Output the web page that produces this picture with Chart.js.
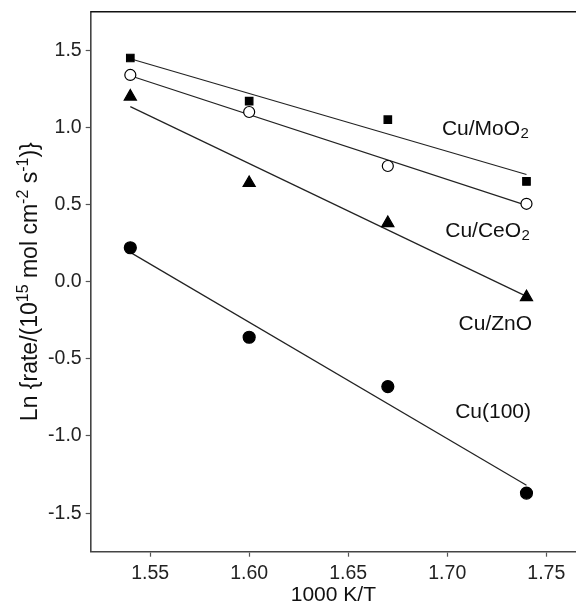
<!DOCTYPE html>
<html>
<head>
<meta charset="utf-8">
<script src="https://cdn.jsdelivr.net/npm/chart.js@4/dist/chart.umd.min.js"></script>
<style>
  html, body { margin: 0; padding: 0; background: #fff; overflow: hidden; }
  #wrap { width: 576px; height: 607px; position: relative; }
</style>
</head>
<body>
<div id="wrap"><canvas id="c" width="576" height="607"></canvas></div>
<script>
// ---- data ----
const xValues   = [1.54, 1.60, 1.67, 1.74];        // 1000 K/T
const cuMoO2    = [1.45, 1.17, 1.05, 0.65];
const cuCeO2    = [1.34, 1.10, 0.75, 0.505];
const cuZnO     = [1.20, 0.64, 0.38, -0.10];
const cu100     = [0.22, -0.36, -0.68, -1.37];

// fitted straight lines (end points)
const fitX      = [1.54, 1.74];
const fitMoO2   = [1.445, 0.695];
const fitCeO2   = [1.335, 0.495];
const fitZnO    = [1.135, -0.095];
const fitCu100  = [0.19, -1.32];

// tick labels
const xTicks = [1.55, 1.60, 1.65, 1.70, 1.75];
const yTicks = [-1.5, -1.0, -0.5, 0.0, 0.5, 1.0, 1.5];

// series labels
const labelMain = ["Cu/MoO", "Cu/CeO", "Cu/ZnO", "Cu(100)"];
const labelSub  = ["2", "2", "", ""];
const labelX    = [1.6973, 1.699, 1.7057, 1.704];
const labelY    = [0.950, 0.291, -0.313, -0.881];

const FONT = '"Liberation Sans", Arial, Helvetica, sans-serif';

function pts(xs, ys) { return xs.map((x, i) => ({ x: x, y: ys[i] })); }

const markerDs = (data, style, r, fill) => ({
  data: data, showLine: false, pointStyle: style, pointRadius: r, pointHoverRadius: r,
  pointBackgroundColor: fill, pointBorderColor: '#000', pointBorderWidth: 1.2, order: 1
});
const fitDs = (data) => ({
  data: data, showLine: true, pointRadius: 0, borderColor: '#222', borderWidth: 1.2,
  fill: false, order: 2
});

const framePlugin = {
  id: 'frame',
  afterDraw(chart) {
    const ctx = chart.ctx, a = chart.chartArea;
    ctx.save();
    // top frame line
    ctx.strokeStyle = '#111';
    ctx.lineWidth = 1.6;
    ctx.beginPath();
    ctx.moveTo(a.left, a.top);
    ctx.lineTo(a.right, a.top);
    ctx.stroke();

    const xs = chart.scales.x, ys = chart.scales.y;
    // series labels
    ctx.fillStyle = '#111';
    ctx.textBaseline = 'alphabetic';
    ctx.textAlign = 'left';
    for (let i = 0; i < labelMain.length; i++) {
      const px = xs.getPixelForValue(labelX[i]);
      const py = ys.getPixelForValue(labelY[i]);
      ctx.font = '21px ' + FONT;
      ctx.fillText(labelMain[i], px, py);
      if (labelSub[i]) {
        const w = ctx.measureText(labelMain[i]).width;
        ctx.font = '15px ' + FONT;
        ctx.fillText(labelSub[i], px + w + 0.5, py + 3);
      }
    }

    // x axis title
    ctx.font = '21px ' + FONT;
    ctx.textAlign = 'center';
    ctx.fillText('1000 K/T', (a.left + a.right) / 2, 601);

    // y axis title with superscripts
    const segs = [
      { t: 'Ln {rate/(10', sup: false },
      { t: '15', sup: true },
      { t: ' mol cm', sup: false },
      { t: '-2', sup: true },
      { t: ' s', sup: false },
      { t: '-1', sup: true },
      { t: ')}', sup: false }
    ];
    const big = '23px ' + FONT, small = '16px ' + FONT;
    let total = 0;
    segs.forEach(s => { ctx.font = s.sup ? small : big; s.w = ctx.measureText(s.t).width; total += s.w; });
    ctx.translate(37, (a.top + a.bottom) / 2);
    ctx.rotate(-Math.PI / 2);
    ctx.textAlign = 'left';
    let cx = -total / 2;
    segs.forEach(s => {
      ctx.font = s.sup ? small : big;
      ctx.fillText(s.t, cx, s.sup ? -9.5 : 0);
      cx += s.w;
    });
    ctx.restore();
  }
};

new Chart(document.getElementById('c'), {
  type: 'scatter',
  data: {
    datasets: [
      fitDs(pts(fitX, fitMoO2)),
      fitDs(pts(fitX, fitCeO2)),
      fitDs(pts(fitX, fitZnO)),
      fitDs(pts(fitX, fitCu100)),
      markerDs(pts(xValues, cuMoO2), 'rect', 5.3, '#000'),
      markerDs(pts(xValues, cuCeO2), 'circle', 5.5, '#fff'),
      markerDs(pts(xValues, cuZnO), 'triangle', 7, '#000'),
      markerDs(pts(xValues, cu100), 'circle', 6, '#000')
    ]
  },
  options: {
    responsive: false,
    animation: false,
    events: [],
    layout: { autoPadding: false, padding: { top: 11.7, right: 0, left: 0, bottom: 0 } },
    plugins: { legend: { display: false }, tooltip: { enabled: false } },
    scales: {
      x: {
        type: 'linear', min: 1.52, max: 1.765,
        afterBuildTicks: s => { s.ticks = xTicks.map(v => ({ value: v })); },
        afterFit: s => { s.height = 55.3; s.paddingRight = 0; s.paddingLeft = 0; },
        grid: { drawOnChartArea: false, drawTicks: true, tickLength: 5, tickColor: '#555', tickWidth: 1.2 },
        border: { display: true, color: '#444', width: 1.6 },
        ticks: { font: { family: FONT, size: 19.5 }, color: '#222', padding: 5, maxRotation: 0,
                 callback: v => Number(v).toFixed(2) }
      },
      y: {
        type: 'linear', min: -1.75, max: 1.75,
        afterBuildTicks: s => { s.ticks = yTicks.map(v => ({ value: v })); },
        afterFit: s => { s.width = 90.7; s.paddingTop = 0; s.paddingBottom = 0; },
        grid: { drawOnChartArea: false, drawTicks: true, tickLength: 5, tickColor: '#555', tickWidth: 1.2 },
        border: { display: true, color: '#444', width: 1.6 },
        ticks: { font: { family: FONT, size: 19.5 }, color: '#222', padding: 4,
                 callback: v => Number(v).toFixed(1) }
      }
    }
  },
  plugins: [framePlugin]
});
</script>
</body>
</html>
